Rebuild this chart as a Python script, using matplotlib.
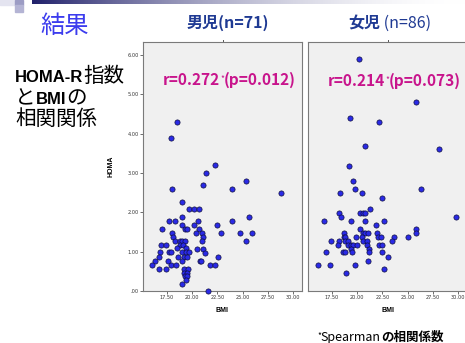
import numpy as np
import matplotlib
matplotlib.use("Agg")
import matplotlib.pyplot as plt
from matplotlib.patches import Rectangle
from matplotlib.ticker import FuncFormatter

# --- data (BMI, HOMA-R) ---
boys_bmi = [18.49, 17.89, 17.99, 22.27, 21.41, 21.05, 23.9, 25.3, 28.75,
            19.05, 19.74, 20.16, 20.66, 19.05, 25.6, 17.76, 18.32, 20.56, 23.98,
            19.01, 20.23, 22.43, 17.0, 19.3, 19.54, 20.72,
            18.03, 20.4, 20.95, 22.9, 24.77, 25.95, 18.16, 21.05,
            18.3, 18.8, 19.0, 19.3, 21.0, 25.3, 16.94, 17.43, 18.8, 19.1,
            18.5, 19.4, 20.5, 21.05,
            16.78, 17.76, 17.96, 19.0, 19.4, 19.65, 21.3,
            16.71, 18.6, 19.2, 19.5, 22.53,
            16.38, 17.6, 19.0, 20.8, 20.9,
            16.05, 17.93, 18.39, 21.8, 22.24,
            16.71, 17.43, 19.2, 19.55,
            19.15, 19.45, 19.25, 19.5, 19.35, 19.0, 21.55]
boys_homa = [4.30, 3.90, 2.59, 3.20, 3.00, 2.69, 2.59, 2.79, 2.50,
             2.27, 2.08, 2.08, 2.08, 1.88, 1.88, 1.77, 1.77, 1.77, 1.77,
             1.67, 1.67, 1.67, 1.57, 1.57, 1.57, 1.57,
             1.47, 1.47, 1.47, 1.47, 1.47, 1.47, 1.37, 1.37,
             1.27, 1.27, 1.27, 1.27, 1.27, 1.27, 1.17, 1.17, 1.17, 1.17,
             1.10, 1.10, 1.08, 1.08,
             0.98, 0.98, 0.98, 0.98, 0.98, 0.98, 0.97,
             0.87, 0.87, 0.87, 0.87, 0.87,
             0.77, 0.77, 0.77, 0.77, 0.77,
             0.67, 0.67, 0.67, 0.67, 0.67,
             0.57, 0.57, 0.57, 0.57,
             0.47, 0.47, 0.37, 0.37, 0.27, 0.17, 0.00]

girls_bmi = [20.2, 25.8, 19.27, 22.13, 20.8, 28.1, 19.2, 19.6, 19.83, 26.27, 29.77,
             18.32, 20.5, 22.47, 21.3, 18.19, 18.42, 20.33, 20.56, 20.82,
             16.71, 19.41, 20.82, 22.63, 21.87, 20.33,
             20.56, 20.82, 21.05, 21.94, 18.75, 18.68, 18.85, 19.9, 20.46,
             22.1, 22.37, 23.68, 25.07, 25.82, 25.82,
             17.43, 18.19, 18.85, 19.1, 20.56, 20.95, 23.45,
             18.1, 19.1, 19.35, 19.6, 20.0, 21.0, 22.14, 22.43,
             19.4, 21.15, 21.2, 16.94, 18.6, 18.85, 19.5, 22.43,
             23.03, 21.05, 19.84, 16.12, 17.37, 22.7, 18.9]
girls_homa = [5.90, 4.80, 4.39, 4.30, 3.69, 3.60, 3.19, 2.79, 2.60, 2.60, 1.89,
              2.48, 2.48, 2.37, 2.08, 1.98, 1.88, 1.98, 1.98, 1.98,
              1.77, 1.77, 1.77, 1.77, 1.67, 1.57,
              1.47, 1.47, 1.47, 1.47, 1.47, 1.37, 1.37, 1.37, 1.37,
              1.37, 1.37, 1.37, 1.37, 1.57, 1.47,
              1.27, 1.27, 1.27, 1.27, 1.27, 1.27, 1.27,
              1.17, 1.17, 1.17, 1.17, 1.17, 1.17, 1.17, 1.17,
              1.08, 1.08, 0.98, 0.98, 0.98, 0.98, 0.98, 0.98,
              0.87, 0.77, 0.67, 0.67, 0.67, 0.57, 0.47]

panel_titles = ["男児(n=71)", "女児"]
corr_r = ["r=0.272", "r=0.214"]
corr_p = ["(p=0.012)", "(p=0.073)"]
xticks = [17.5, 20.0, 22.5, 25.0, 27.5, 30.0]
yticks = [0, 1, 2, 3, 4, 5, 6]

JP = ["Noto Sans CJK JP", "DejaVu Sans"]
LAT = ["Liberation Sans", "DejaVu Sans"]
W, H = 465, 343

fig = plt.figure(figsize=(4.65, 3.43), dpi=100)
fig.patch.set_facecolor("white")

def fx(px):
    return px / W

def fy(py):
    return 1 - py / H

# top banner: small squares + fading bar
for (x0, y0, w, h, c) in [(0, 0, 15, 5, "#e4e4f0"), (15, 0, 8, 5, "#9c9cc4"),
                          (15, 5, 8, 7, "#b4b4d4")]:
    fig.patches.append(Rectangle((fx(x0), fy(y0 + h)), fx(w), h / H, color=c,
                                 transform=fig.transFigure, zorder=0))
bar = fig.add_axes([fx(32), fy(4), 1 - fx(32), 4 / H])
f = np.linspace(0, 1, 256)
c0 = np.array([0.13, 0.13, 0.42])
c1 = np.array([1.0, 1.0, 1.0])
ramp = 1 - (1 - f) ** 1.8
img = c0[None, :] * (1 - ramp[:, None]) + c1[None, :] * ramp[:, None]
bar.imshow(img[None, :, :], aspect="auto")
bar.set_axis_off()

fmt = FuncFormatter(lambda v, p: (".00" if abs(v) < 1e-9 else f"{v:.2f}"))

lefts = [143, 308]
axes = []
for i, (bx, hy) in enumerate([(boys_bmi, boys_homa), (girls_bmi, girls_homa)]):
    ax = fig.add_axes([fx(lefts[i]), fy(291), fx(159), 249 / H])
    ax.set_facecolor("#f0f0f0")
    ax.scatter(bx, hy, s=14, c="#2a2ae6", edgecolors="#101040",
               linewidths=0.5, zorder=3, clip_on=False)
    ax.set_xlim(15.15, 30.85)
    ax.set_ylim(0, 6.33)
    ax.set_xticks(xticks)
    ax.set_yticks(yticks)
    ax.xaxis.set_major_formatter(fmt)
    ax.yaxis.set_major_formatter(fmt)
    ax.tick_params(labelsize=3.6, length=2, width=0.6, color="#555555",
                   labelcolor="#333333", pad=1)
    for s in ax.spines.values():
        s.set_color("#7a7a7a")
        s.set_linewidth(0.8)
    ax.set_xlabel("BMI", fontsize=5, fontweight="bold", family=LAT, labelpad=5)
    if i == 0:
        ax.set_ylabel("HOMA", fontsize=5, fontweight="bold", family=LAT,
                      labelpad=9)
    else:
        ax.tick_params(axis="y", labelleft=False, length=0)
    ax.plot([0.5, 0.5], [1.0, 1.01], transform=ax.transAxes, color="#555555",
            lw=0.7, clip_on=False)
    axes.append(ax)

renderer = fig.canvas.get_renderer()

def runs(x, y, parts):
    # draw pieces of text one after another on a shared baseline
    xf = fx(x)
    for part in parts:
        s, kw = part[0], part[1]
        dy = part[2] if len(part) > 2 else 0
        t = fig.text(xf, fy(y - dy), s, ha="left", va="baseline", **kw)
        xf = t.get_window_extent(renderer=renderer).x1 / fig.bbox.width

# slide title
fig.text(fx(40), fy(33), "結果", family=JP, fontsize=17.5, color="#3c3cee",
         va="baseline")

# left caption
latb = dict(family=LAT, fontsize=12, fontweight="bold", color="black")
jpr = dict(family=JP, fontsize=14.8, color="black")
runs(15, 82, [("HOMA-R", latb), ("指数", jpr)])
runs(15, 104, [("と", jpr), ("BMI", latb), ("の", jpr)])
runs(15, 125, [("相関関係", jpr)])

# panel headers
hdr = dict(family=JP, fontsize=11.5, fontweight="bold", color="#1f3a93")
runs(187, 28, [(panel_titles[0], hdr)])
runs(348, 28, [(panel_titles[1], hdr),
               (" (n=86)", dict(family=JP, fontsize=11.5, color="#1f3a93"))])

# correlation coefficients
ct = dict(family=JP, fontsize=11.1, fontweight="bold", color="#c8148c")
star = dict(family=JP, fontsize=6, color="#c8148c")
for x0, y0, r, p in [(163, 85, corr_r[0], corr_p[0]),
                     (328, 86, corr_r[1], corr_p[1])]:
    runs(x0, y0, [(r, ct), ("*", star, 4), (p, ct)])

# footnote
runs(317, 341, [("*", dict(family=JP, fontsize=6, color="black"), 3),
                ("Spearman", dict(family=JP, fontsize=9, color="black")),
                ("の相関係数", dict(family=JP, fontsize=9, fontweight="bold",
                                  color="black"))])

fig.savefig("out.png", dpi=100)
